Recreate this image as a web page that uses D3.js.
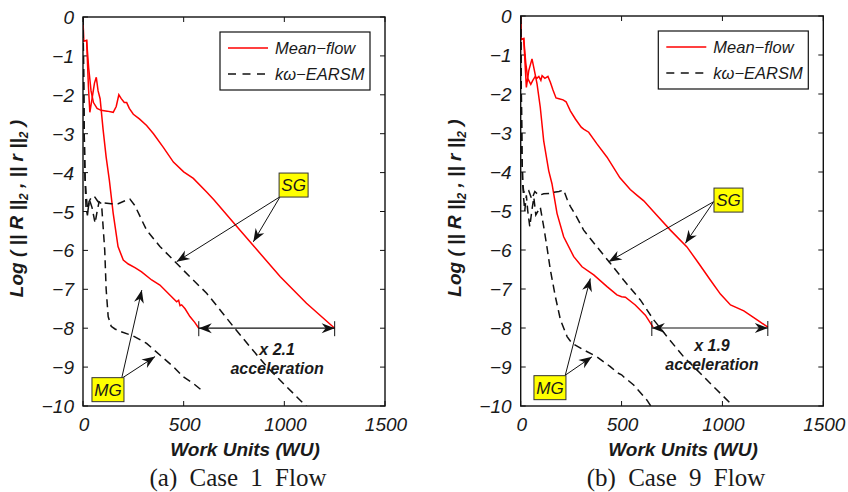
<!DOCTYPE html>
<html lang="en">
<head>
<meta charset="UTF-8">
<title>Residual convergence vs work units</title>
<script src="https://d3js.org/d3.v7.min.js"></script>
<style>
  body { margin: 0; background: #fff; }
  svg { display: block; }
  .tick-label { font-family: "Liberation Sans", Arial, sans-serif; font-style: italic; font-size: 19px; fill: #1a1a1a; }
  .axis-title { font-family: "Liberation Sans", Arial, sans-serif; font-style: italic; font-weight: bold; font-size: 19px; fill: #1a1a1a; }
  .caption { font-family: "Liberation Serif", "DejaVu Serif", serif; font-size: 25px; word-spacing: 6px; fill: #1a1a1a; }
  .legend-text { font-family: "Liberation Sans", Arial, sans-serif; font-style: italic; font-size: 16.5px; fill: #1a1a1a; }
  .tag { font-family: "Liberation Sans", Arial, sans-serif; font-style: italic; font-size: 17px; fill: #1a1a1a; }
  .note { font-family: "Liberation Sans", Arial, sans-serif; font-style: italic; font-weight: bold; font-size: 16px; fill: #1a1a1a; }
</style>
</head>
<body>
<svg width="848" height="492"></svg>
<script>
// axis ticks
const xTicks = [0, 500, 1000, 1500];
const yTicks = [0, -1, -2, -3, -4, -5, -6, -7, -8, -9, -10];
const seriesNames = ['Mean\u2212flow', 'k\u03c9\u2212EARSM'];

// Case 1 : [work units, log residual]
const case1MeanSG = [[0,0],[3,-0.62],[18,-0.6],[28,-1.3],[40,-1.9],[52,-2.2],[70,-2.35],[90,-2.4],[120,-2.42],[150,-2.45],
  [165,-2.3],[178,-2.0],[190,-2.1],[205,-2.2],[217,-2.2],[230,-2.35],[250,-2.5],[280,-2.62],[316,-2.79],[350,-3.0],
  [399,-3.35],[449,-3.73],[500,-3.98],[548,-4.15],[614,-4.5],[650,-4.7],[700,-5.0],[750,-5.3],[850,-5.9],[980,-6.68],
  [1110,-7.36],[1250,-8.0]];
const case1MeanMG = [[0,0],[3,-0.62],[18,-0.6],[27,-1.8],[34,-2.45],[45,-2.1],[57,-1.7],[66,-1.55],[75,-1.9],[85,-2.1],
  [100,-2.9],[115,-3.6],[131,-4.2],[150,-5.05],[174,-5.9],[200,-6.25],[225,-6.35],[260,-6.45],[291,-6.55],[341,-6.76],
  [382,-6.89],[440,-7.19],[465,-7.32],[475,-7.28],[482,-7.42],[490,-7.4],[507,-7.5],[531,-7.7],[555,-7.85],[575,-8.0]];
const case1KwSG = [[0,0],[3,-1.5],[6,-3],[10,-4.1],[15,-4.9],[22,-5.1],[30,-4.75],[40,-4.65],[55,-4.6],[75,-4.75],
  [100,-4.78],[140,-4.8],[175,-4.8],[210,-4.72],[233,-4.68],[258,-4.85],[290,-5.2],[316,-5.48],[382,-5.9],[457,-6.29],
  [531,-6.68],[614,-7.1],[681,-7.53],[747,-7.96],[830,-8.48],[913,-8.99],[995,-9.42],[1061,-9.76],[1111,-10.02]];
const case1KwMG = [[0,0],[3,-1.5],[6,-3],[10,-4.1],[16,-4.6],[24,-5.0],[32,-4.7],[45,-4.9],[60,-5.3],[70,-5.0],
  [80,-4.75],[92,-4.8],[100,-5.4],[108,-6.0],[115,-7.0],[125,-7.7],[140,-7.95],[159,-8.02],[184,-8.08],[250,-8.2],
  [316,-8.39],[382,-8.69],[449,-8.99],[498,-9.25],[548,-9.42],[595,-9.62]];

// Case 9
const case9MeanSG = [[0,0],[3,-0.6],[15,-0.58],[25,-1.2],[35,-1.6],[50,-1.75],[60,-1.65],[72,-1.55],[80,-1.6],[90,-1.55],
  [100,-1.65],[106,-1.53],[120,-1.6],[135,-1.55],[147,-1.7],[160,-1.9],[175,-2.1],[190,-2.12],[210,-2.15],[225,-2.2],
  [246,-2.43],[271,-2.64],[300,-2.85],[312,-2.9],[337,-2.98],[378,-3.28],[428,-3.62],[492,-4.15],[543,-4.45],[577,-4.6],
  [610,-4.74],[659,-5.02],[742,-5.49],[824,-5.92],[882,-6.34],[940,-6.77],[990,-7.13],[1040,-7.41],[1106,-7.56],
  [1172,-7.79],[1225,-7.98]];
const case9MeanMG = [[0,0],[3,-0.6],[15,-0.58],[28,-1.83],[40,-1.4],[56,-1.1],[68,-1.4],[81,-1.74],[97,-2.34],[114,-3.2],
  [139,-3.97],[155,-4.3],[180,-5.06],[213,-5.66],[263,-6.17],[304,-6.43],[362,-6.64],[428,-6.94],[477,-7.15],[500,-7.2],
  [519,-7.21],[568,-7.41],[618,-7.67],[656,-7.98]];
const case9KwSG = [[0,0],[3,-2],[6,-3.5],[10,-4.3],[15,-4.5],[25,-4.55],[40,-4.48],[55,-4.7],[70,-4.5],[90,-4.6],
  [114,-4.56],[140,-4.55],[164,-4.52],[190,-4.5],[213,-4.46],[230,-4.7],[246,-4.88],[277,-5.15],[312,-5.49],[378,-5.92],
  [444,-6.34],[510,-6.77],[593,-7.28],[659,-7.79],[725,-8.22],[808,-8.74],[890,-9.16],[973,-9.59],[1039,-9.93],[1050,-10]];
const case9KwMG = [[0,0],[3,-2],[6,-3.5],[10,-4.3],[15,-4.7],[20,-5.0],[28,-4.6],[35,-5.0],[45,-5.4],[55,-5.0],
  [65,-4.65],[75,-5.1],[97,-4.9],[114,-5.4],[130,-5.92],[147,-6.51],[172,-7.2],[197,-7.79],[230,-8.22],[254,-8.39],
  [312,-8.56],[378,-8.74],[444,-8.99],[480,-9.15],[500,-9.2],[510,-9.25],[560,-9.46],[626,-9.85],[645,-10]];

// annotations, in data units
const case1Notes = {
  sg: [1046, -4.32], sgFrom: [979, -4.62], sgTips: [[846, -5.78], [465, -6.29]],
  mg: [124, -9.58], mgFrom: [192, -9.29], mgTips: [[292, -7.02], [358, -8.73]],
  span: [575, 1250], factor: 'x 2.1', label: [964, -8.56]
};
const case9Notes = {
  sg: [1030, -4.72], sgFrom: [957, -4.76], sgTips: [[816, -5.83], [436, -6.3]],
  mg: [145, -9.53], mgFrom: [221, -9.21], mgTips: [[345, -6.73], [353, -8.74]],
  span: [650, 1225], factor: 'x 1.9', label: [948, -8.46]
};

const svg = d3.select('svg');
svg.append('rect').attr('width', 848).attr('height', 492).attr('fill', '#fff');

const defs = svg.append('defs');
defs.append('marker')
  .attr('id', 'head')
  .attr('viewBox', '-14 -6 16 12')
  .attr('refX', 0).attr('refY', 0)
  .attr('markerWidth', 16).attr('markerHeight', 12)
  .attr('markerUnits', 'userSpaceOnUse')
  .attr('orient', 'auto-start-reverse')
  .append('path')
  .attr('d', 'M0,0 L-13,-5 L-9,0 L-13,5 Z')
  .attr('fill', '#111');

function drawPanel(id, box, series, notes, caption) {
  const x = d3.scaleLinear().domain([0, 1500]).range([box.left, box.right]);
  const y = d3.scaleLinear().domain([-10, 0]).range([box.bottom, box.top]);
  const g = svg.append('g');

  defs.append('clipPath').attr('id', 'clip' + id)
    .append('rect')
    .attr('x', box.left).attr('y', box.top)
    .attr('width', box.right - box.left).attr('height', box.bottom - box.top);

  // ticks inward on all sides
  const tickLen = 5;
  xTicks.forEach(t => {
    g.append('line').attr('x1', x(t)).attr('x2', x(t)).attr('y1', box.bottom).attr('y2', box.bottom - tickLen).attr('stroke', '#111');
    g.append('line').attr('x1', x(t)).attr('x2', x(t)).attr('y1', box.top).attr('y2', box.top + tickLen).attr('stroke', '#111');
    g.append('text').attr('class', 'tick-label')
      .attr('x', x(t) + 1).attr('y', box.bottom + 25)
      .attr('text-anchor', 'middle').text(t);
  });
  yTicks.forEach(t => {
    g.append('line').attr('x1', box.left).attr('x2', box.left + tickLen).attr('y1', y(t)).attr('y2', y(t)).attr('stroke', '#111');
    g.append('line').attr('x1', box.right).attr('x2', box.right - tickLen).attr('y1', y(t)).attr('y2', y(t)).attr('stroke', '#111');
    g.append('text').attr('class', 'tick-label')
      .attr('x', box.left - 9).attr('y', y(t) + 7)
      .attr('text-anchor', 'end').text(t === 0 ? '0' : '\u2212' + Math.abs(t));
  });

  // curves
  const line = d3.line().x(d => x(d[0])).y(d => y(d[1]));
  const curves = g.append('g').attr('clip-path', `url(#clip${id})`);
  series.forEach(s => {
    curves.append('path')
      .attr('d', line(s.data))
      .attr('fill', 'none')
      .attr('stroke', s.dash ? '#111' : '#ff0000')
      .attr('stroke-width', 1.5)
      .attr('stroke-dasharray', s.dash ? '8,5' : null);
  });

  // axes box
  g.append('rect')
    .attr('x', box.left).attr('y', box.top)
    .attr('width', box.right - box.left).attr('height', box.bottom - box.top)
    .attr('fill', 'none').attr('stroke', '#111').attr('stroke-width', 1.4);

  // legend
  const lg = g.append('g').attr('transform', `translate(${box.right - 165},${box.top + 15})`);
  lg.append('rect').attr('width', 150).attr('height', 58).attr('fill', '#fff').attr('stroke', '#111').attr('stroke-width', 1.2);
  seriesNames.forEach((name, i) => {
    const ly = 16 + i * 26;
    lg.append('line').attr('x1', 8).attr('x2', 48).attr('y1', ly).attr('y2', ly)
      .attr('stroke', i ? '#111' : '#ff0000').attr('stroke-width', 1.5)
      .attr('stroke-dasharray', i ? '8,6.5' : null);
    lg.append('text').attr('class', 'legend-text').attr('x', 55).attr('y', ly + 6).text(name);
  });

  // arrows from SG / MG tags
  const arrow = (from, to) => g.append('line')
    .attr('x1', x(from[0])).attr('y1', y(from[1]))
    .attr('x2', x(to[0])).attr('y2', y(to[1]))
    .attr('stroke', '#111').attr('stroke-width', 1)
    .attr('marker-end', 'url(#head)');
  notes.sgTips.forEach(t => arrow(notes.sgFrom, t));
  notes.mgTips.forEach(t => arrow(notes.mgFrom, t));

  const tag = (pos, label, w) => {
    g.append('rect')
      .attr('x', x(pos[0]) - w / 2).attr('y', y(pos[1]) - 12)
      .attr('width', w).attr('height', 24)
      .attr('fill', '#ffff00').attr('stroke', '#333').attr('stroke-width', 1);
    g.append('text').attr('class', 'tag')
      .attr('x', x(pos[0])).attr('y', y(pos[1]) + 6)
      .attr('text-anchor', 'middle').text(label);
  };
  tag(notes.sg, 'SG', 29);
  tag(notes.mg, 'MG', 32);

  // acceleration span at log residual -8
  const sy = y(-8);
  g.append('line')
    .attr('x1', x(notes.span[0])).attr('x2', x(notes.span[1]))
    .attr('y1', sy).attr('y2', sy)
    .attr('stroke', '#111').attr('stroke-width', 1.2)
    .attr('marker-start', 'url(#head)').attr('marker-end', 'url(#head)');
  notes.span.forEach(v => {
    g.append('line').attr('x1', x(v)).attr('x2', x(v)).attr('y1', sy - 7).attr('y2', sy + 8)
      .attr('stroke', '#111').attr('stroke-width', 1);
  });
  g.append('text').attr('class', 'note')
    .attr('x', x(notes.label[0])).attr('y', y(notes.label[1]) + 5)
    .attr('text-anchor', 'middle').text(notes.factor);
  g.append('text').attr('class', 'note')
    .attr('x', x(notes.label[0])).attr('y', y(notes.label[1]) + 24)
    .attr('text-anchor', 'middle').text('acceleration');

  // axis titles
  g.append('text').attr('class', 'axis-title')
    .attr('x', (box.left + box.right) / 2 + 11).attr('y', box.bottom + 50)
    .attr('text-anchor', 'middle').text('Work Units (WU)');

  const yl = g.append('text').attr('class', 'axis-title')
    .attr('transform', `translate(${box.left - 60},${(box.top + box.bottom) / 2 - 3}) rotate(-90)`)
    .attr('text-anchor', 'middle');
  yl.append('tspan').text('Log ( || R ||');
  yl.append('tspan').attr('font-size', 12).attr('dy', 5).text('2');
  yl.append('tspan').attr('dy', -5).text(' , || r ||');
  yl.append('tspan').attr('font-size', 12).attr('dy', 5).text('2');
  yl.append('tspan').attr('dy', -5).text(' )');

  g.append('text').attr('class', 'caption')
    .attr('x', (box.left + box.right) / 2 + 4).attr('y', box.bottom + 80)
    .attr('text-anchor', 'middle')
    .text(caption);
}

drawPanel(1, { left: 83, right: 385, top: 17, bottom: 406 },
  [{ data: case1MeanSG }, { data: case1MeanMG }, { data: case1KwSG, dash: true }, { data: case1KwMG, dash: true }],
  case1Notes, '(a) Case 1 Flow');
drawPanel(9, { left: 520.7, right: 823.3, top: 16, bottom: 406 },
  [{ data: case9MeanSG }, { data: case9MeanMG }, { data: case9KwSG, dash: true }, { data: case9KwMG, dash: true }],
  case9Notes, '(b) Case 9 Flow');
</script>
</body>
</html>
